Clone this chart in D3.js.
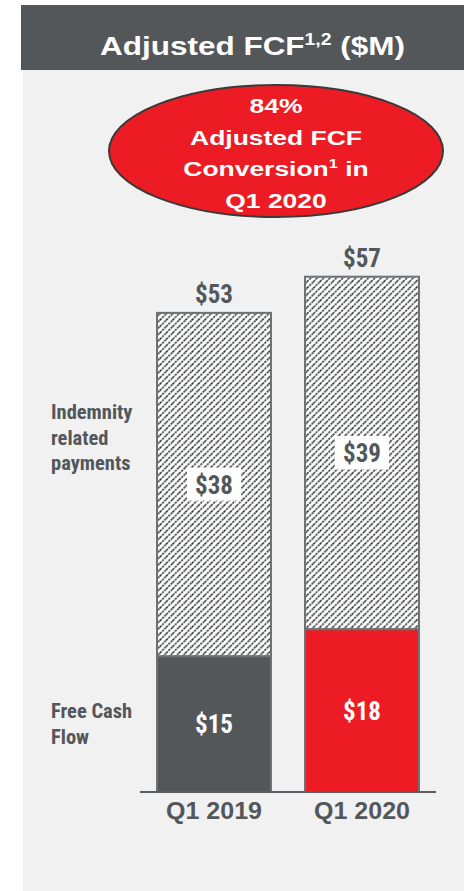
<!DOCTYPE html>
<html>
<head>
<meta charset="utf-8">
<script src="https://cdn.jsdelivr.net/npm/d3@7"></script>
<style>
  html, body { margin: 0; padding: 0; background: #fff; }
  svg { display: block; }
</style>
</head>
<body>
<div id="chart"></div>
<script>
//Datos
const quarters = ['Q1 2019', 'Q1 2020'];
const fcf = [15, 18];
const indemnity = [38, 39];
const totals = [53, 57];
const calloutLines = ['84%', 'Adjusted FCF', 'Conversion', 'Q1 2020'];
const legendFcf = ['Free Cash', 'Flow'];
const legendInd = ['Indemnity', 'related', 'payments'];

//Colores y fuentes
const COLOR_DARK = '#54575a',
COLOR_RED = '#ed1c24',
COLOR_PANEL = '#f1f1f1',
COLOR_EDGE = '#6d7074';
const fcfColors = [COLOR_DARK, COLOR_RED];
const SANS = 'Liberation Sans';
const NARROW = 'Roboto Condensed';

let width = 464, height = 891;

let svg = d3.select('#chart')
    .append('svg')
        .attr('width', width)
        .attr('height', height);

//Ajusta el ancho de un texto estirándolo en horizontal
function stretchTo(sel, cx, cy, target) {
    let w = sel.node().getComputedTextLength();
    sel.attr('x', 0).attr('y', 0)
        .attr('text-anchor', 'middle')
        .attr('transform', 'translate(' + cx + ',' + cy + ') scale(' + (target / w) + ',1)');
}

//Patrón rayado
let pat = svg.append('defs').append('pattern')
    .attr('id', 'hatch')
    .attr('patternUnits', 'userSpaceOnUse')
    .attr('width', 6.4)
    .attr('height', 6.4);
pat.append('rect').attr('width', 6.4).attr('height', 6.4).attr('fill', '#fff');
pat.append('path')
    .attr('d', 'M0,6.4 L6.4,0 M-1,1 L1,-1 M5.4,7.4 L7.4,5.4')
    .attr('stroke', '#2e3033')
    .attr('stroke-width', 1.5)
    .attr('stroke-dasharray', '2.2,0.9');

//Fondo del panel
svg.append('rect')
    .attr('x', 23).attr('y', 70)
    .attr('width', width - 23).attr('height', height - 70)
    .attr('fill', COLOR_PANEL);

//Cabecera
svg.append('rect')
    .attr('x', 21).attr('y', 5)
    .attr('width', width - 21).attr('height', 65)
    .attr('fill', COLOR_DARK);

let title = svg.append('text')
    .attr('fill', '#fff')
    .style('font-family', SANS)
    .style('font-size', '26px')
    .style('font-weight', 'bold');
title.append('tspan').text('Adjusted FCF');
title.append('tspan').attr('dy', -10).style('font-size', '16px').text('1,2');
title.append('tspan').attr('dy', 10).text(' ($M)');
stretchTo(title, 252.5, 55, 305);

//Elipse
svg.append('ellipse')
    .attr('cx', 276).attr('cy', 151)
    .attr('rx', 167).attr('ry', 66)
    .attr('fill', COLOR_RED)
    .attr('stroke', '#3a3a3a')
    .attr('stroke-width', 2);

let callout = svg.append('g')
    .attr('fill', '#fff')
    .style('font-family', SANS)
    .style('font-size', '21px')
    .style('font-weight', 'bold');

let calloutTexts = calloutLines.map(function(line, i) {
    let t = callout.append('text');
    t.append('tspan').text(line);
    if (line === 'Conversion') {
        t.append('tspan').attr('dy', -8).style('font-size', '13px').text('1');
        t.append('tspan').attr('dy', 8).text(' in');
    }
    return t;
});
let calloutScale = 172 / calloutTexts[1].node().getComputedTextLength();
calloutTexts.forEach(function(t, i) {
    stretchTo(t, 276, 113 + i * 31.7, t.node().getComputedTextLength() * calloutScale);
});

//Escalas
let x = d3.scaleBand()
    .domain(quarters)
    .range([140, 436])
    .paddingInner(0.23)
    .paddingOuter(0.115);

let y = d3.scaleLinear()
    .domain([0, 57])
    .range([792, 276.7]);

let rows = quarters.map(function(q, i) {
    return { q: q, fcf: fcf[i], ind: indemnity[i], total: totals[i], color: fcfColors[i] };
});

//Barras rayadas
svg.selectAll('.bar-ind')
    .data(rows)
    .enter()
    .append('rect')
    .attr('class', 'bar-ind')
    .attr('x', function(d) { return x(d.q); })
    .attr('y', function(d) { return y(d.fcf + d.ind); })
    .attr('width', x.bandwidth())
    .attr('height', function(d) { return y(d.fcf) - y(d.fcf + d.ind); })
    .attr('fill', 'url(#hatch)')
    .attr('stroke', COLOR_EDGE)
    .attr('stroke-width', 2);

//Barras FCF
svg.selectAll('.bar-fcf')
    .data(rows)
    .enter()
    .append('rect')
    .attr('class', 'bar-fcf')
    .attr('x', function(d) { return x(d.q); })
    .attr('y', function(d) { return y(d.fcf); })
    .attr('width', x.bandwidth())
    .attr('height', function(d) { return y(0) - y(d.fcf); })
    .attr('fill', function(d) { return d.color; })
    .attr('stroke', COLOR_EDGE)
    .attr('stroke-width', 2);

//Eje X
let xAxis = function(g) {
    g.call(d3.axisBottom(x).tickSize(0).tickPadding(11));
    g.select('.domain').attr('stroke', '#5a5e62').attr('stroke-width', 2).attr('d', 'M140,0H436');
    g.selectAll('.tick text')
        .attr('fill', COLOR_DARK)
        .attr('dy', '0.71em')
        .attr('textLength', 96)
        .attr('lengthAdjust', 'spacingAndGlyphs')
        .style('font-family', SANS)
        .style('font-size', '23px')
        .style('font-weight', 'bold');
};
svg.append('g')
    .attr('transform', 'translate(0,' + y(0) + ')')
    .call(xAxis);

//Etiquetas de valores
function valueLabel(sel) {
    sel.attr('text-anchor', 'middle')
        .style('font-family', NARROW)
        .style('font-size', '25px')
        .style('font-weight', 'bold');
}

svg.selectAll('.lbl-total')
    .data(rows)
    .enter()
    .append('text')
    .attr('x', function(d) { return x(d.q) + x.bandwidth() / 2; })
    .attr('y', function(d) { return y(d.total) - 10; })
    .attr('fill', COLOR_DARK)
    .call(valueLabel)
    .text(function(d) { return '$' + d.total; });

let indLabels = svg.selectAll('.lbl-ind')
    .data(rows)
    .enter()
    .append('g')
    .attr('transform', function(d) {
        return 'translate(' + (x(d.q) + x.bandwidth() / 2) + ',' + (y(d.fcf + d.ind / 2)) + ')';
    });
indLabels.append('rect')
    .attr('x', -27).attr('y', -17)
    .attr('width', 54).attr('height', 33)
    .attr('fill', '#fff');
indLabels.append('text')
    .attr('dy', '0.36em')
    .attr('fill', COLOR_DARK)
    .call(valueLabel)
    .text(function(d) { return '$' + d.ind; });

svg.selectAll('.lbl-fcf')
    .data(rows)
    .enter()
    .append('text')
    .attr('x', function(d) { return x(d.q) + x.bandwidth() / 2; })
    .attr('y', function(d) { return y(d.fcf / 2); })
    .attr('dy', '0.36em')
    .attr('fill', '#fff')
    .call(valueLabel)
    .text(function(d) { return '$' + d.fcf; });

//Leyenda lateral
[{ lines: legendFcf, y: 718 }, { lines: legendInd, y: 419 }].forEach(function(item) {
    let t = svg.append('text')
        .attr('x', 51)
        .attr('y', item.y)
        .attr('fill', COLOR_DARK)
        .style('font-family', NARROW)
        .style('font-size', '20.5px')
        .style('font-weight', 'bold');
    item.lines.forEach(function(l, i) {
        t.append('tspan').attr('x', 51).attr('dy', i === 0 ? 0 : 25.5).text(l);
    });
});
</script>
</body>
</html>
